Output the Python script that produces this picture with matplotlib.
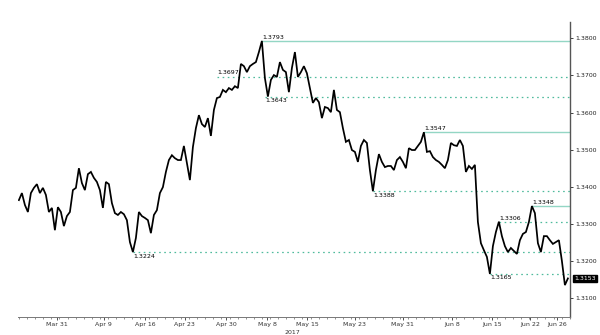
import numpy as np
import matplotlib
matplotlib.use("Agg")
import matplotlib.pyplot as plt
from matplotlib.ticker import MultipleLocator

# closing prices, one value per bar (late Mar - end Jun 2017)
price = [
    1.3364, 1.3383, 1.3351, 1.3332, 1.3383, 1.3397, 1.3407, 1.3383, 1.3397, 1.3378,
    1.3332, 1.3343, 1.3283, 1.3345, 1.3332, 1.3294, 1.3321, 1.3332, 1.3391, 1.3397,
    1.3450, 1.3410, 1.3391, 1.3434, 1.3440, 1.3424, 1.3413, 1.3391, 1.3343, 1.3413,
    1.3407, 1.3356, 1.3329, 1.3324, 1.3332, 1.3326, 1.3310, 1.3251, 1.3224, 1.3262,
    1.3332, 1.3321, 1.3316, 1.3310, 1.3275, 1.3324, 1.3337, 1.3383, 1.3399, 1.3440,
    1.3472, 1.3485, 1.3477, 1.3472, 1.3472, 1.3510, 1.3464, 1.3418, 1.3507, 1.3558,
    1.3593, 1.3569, 1.3561, 1.3585, 1.3537, 1.3607, 1.3639, 1.3642, 1.3661, 1.3655,
    1.3666, 1.3661, 1.3671, 1.3666, 1.3731, 1.3725, 1.3709, 1.3725, 1.3731, 1.3736,
    1.3763, 1.3793, 1.3693, 1.3643, 1.3688, 1.3701, 1.3696, 1.3736, 1.3715, 1.3709,
    1.3655, 1.3720, 1.3763, 1.3696, 1.3709, 1.3725, 1.3706, 1.3666, 1.3626, 1.3639,
    1.3628, 1.3585, 1.3615, 1.3612, 1.3601, 1.3661, 1.3607, 1.3601, 1.3558, 1.3521,
    1.3526, 1.3499, 1.3494, 1.3467, 1.3510, 1.3526, 1.3518, 1.3445, 1.3388, 1.3445,
    1.3488, 1.3467, 1.3453, 1.3456, 1.3456, 1.3445, 1.3472, 1.3480, 1.3467, 1.3450,
    1.3504, 1.3499, 1.3499, 1.3510, 1.3521, 1.3547, 1.3494, 1.3496, 1.3480, 1.3472,
    1.3467, 1.3459, 1.3450, 1.3472, 1.3518, 1.3512, 1.3510, 1.3526, 1.3510, 1.3440,
    1.3456, 1.3448, 1.3459, 1.3305, 1.3248, 1.3229, 1.3211, 1.3165, 1.3240, 1.3278,
    1.3306, 1.3267, 1.3240, 1.3224, 1.3235, 1.3227, 1.3219, 1.3256, 1.3273, 1.3278,
    1.3305, 1.3348, 1.3329, 1.3248, 1.3224, 1.3267, 1.3267, 1.3256, 1.3246, 1.3251,
    1.3256, 1.3200, 1.3135, 1.3153,
]

# support / resistance levels and the bar where each line starts
solid_levels = [1.3793, 1.3547, 1.3348]
solid_start = [81, 135, 171]
dashed_levels = [1.3697, 1.3643, 1.3388, 1.3306, 1.3224, 1.3165]
dashed_start = [66, 82, 118, 160, 38, 157]
dashed_below = [False, True, True, False, True, True]

last_price = 1.3153

tick_pos = [12.6, 28.3, 42, 55.3, 69, 82.7, 96, 112, 128, 144.3, 157.7, 170.3, 179.3]
tick_labels = ["Mar 31", "Apr 9", "Apr 16", "Apr 23", "Apr 30", "May 8", "May 15",
               "May 23", "May 31", "Jun 8", "Jun 15", "Jun 22", "Jun 26"]
yticks = [1.31, 1.32, 1.33, 1.34, 1.35, 1.36, 1.37, 1.38]

solid_col = "#93d6c4"
dash_col = "#4fbb9c"

fig = plt.figure(figsize=(6, 3.35), dpi=100)
ax = fig.add_axes([0.03, 0.0537, 0.92, 0.8806])

x = np.arange(len(price))
ax.plot(x, price, color="black", lw=1.25, solid_joinstyle="miter", zorder=3)

xend = len(price) - 0.3
for lv, s in zip(solid_levels, solid_start):
    ax.plot([s, xend], [lv, lv], color=solid_col, lw=1.0, zorder=2)
    ax.text(s, lv + 0.0003, "%.4f" % lv, fontsize=4.5, va="bottom", ha="left", zorder=4)

for lv, s, below in zip(dashed_levels, dashed_start, dashed_below):
    ax.plot([s, xend], [lv, lv], color=dash_col, lw=0.9, dashes=(1.3, 2.8), zorder=2)
    if below:
        ax.text(s, lv - 0.0004, "%.4f" % lv, fontsize=4.5, va="top", ha="left", zorder=4)
    else:
        ax.text(s, lv + 0.0003, "%.4f" % lv, fontsize=4.5, va="bottom", ha="left", zorder=4)

ax.set_xlim(-0.3, len(price) - 0.3)
ax.set_ylim(1.3049, 1.3844)

ax.yaxis.tick_right()
ax.set_yticks(yticks)
ax.set_yticklabels(["%.4f" % v for v in yticks])
ax.set_xticks(tick_pos)
ax.set_xticklabels(tick_labels)
ax.xaxis.set_minor_locator(MultipleLocator(2.7))
ax.tick_params(axis="y", labelsize=4.5, length=2, width=0.6, pad=1.5, colors="#222222")
ax.tick_params(axis="x", which="major", labelsize=4.5, length=2.5, width=0.6, pad=1, colors="#333333")
ax.tick_params(axis="x", which="minor", length=1.5, width=0.5, colors="#666666")

for side in ["left", "top"]:
    ax.spines[side].set_visible(False)
ax.spines["right"].set_color("#555555")
ax.spines["right"].set_linewidth(1.0)
ax.spines["bottom"].set_color("#777777")
ax.spines["bottom"].set_linewidth(0.7)

ax.text(91, -0.045, "2017", transform=ax.get_xaxis_transform(), fontsize=4.5,
        ha="center", va="top", color="#333333")

ax.annotate("%.4f" % last_price, xy=(1.0, last_price), xycoords=("axes fraction", "data"),
            xytext=(3, 0), textcoords="offset points", fontsize=4.5, color="white",
            va="center", ha="left",
            bbox=dict(boxstyle="square,pad=0.15", fc="black", ec="black"))

fig.savefig("out.png", dpi=100)
